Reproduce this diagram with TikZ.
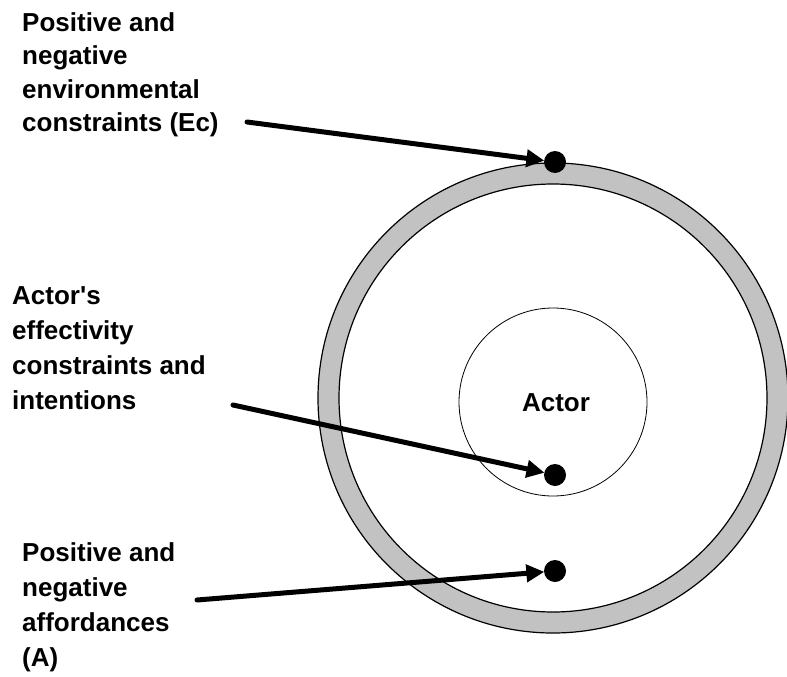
\documentclass[tikz,border=0pt]{standalone}
\usepackage{fontspec}
\setmainfont{Liberation Sans}
\usetikzlibrary{arrows.meta}

\begin{document}
\begin{tikzpicture}[x=1pt,y=-1pt,
  label text/.style={font=\bfseries\fontsize{26}{35}\selectfont, align=left,
                     anchor=north west, inner sep=0pt},
  marker/.style={circle, fill=black, inner sep=0pt, minimum size=22pt},
  pointer/.style={line width=5pt, line cap=round,
                  -{Triangle[length=18pt,width=17pt]}, shorten >=-0.5pt},
  ring edge/.style={draw=black, line width=1.2pt},
]
\useasboundingbox (0,0) rectangle (787,677);

% environment ring
\coordinate (centre) at (553,398);
\fill[black!24, even odd rule] (centre) circle[radius=235] (centre) circle[radius=214];
\draw[ring edge] (centre) circle[radius=235];
\draw[ring edge] (centre) circle[radius=214];

% actor circle
\node[circle, draw=black, line width=0.8pt, minimum size=188pt, inner sep=0pt] (actor) at (553,402) {};
\node[font=\bfseries\fontsize{26}{30}\selectfont] (actorname) at (556,403) {Actor};

% markers
\node[marker] (ec) at (555,162) {};
\node[marker] (eff) at (555,475) {};
\node[marker] (aff) at (555,571) {};

% labels
\node[label text, font=\bfseries\fontsize{26}{33.5}\selectfont] (ectext) at (22,12)
  {Positive and\\negative\\environmental\\constraints (Ec)};
\node[label text] (efftext) at (12,286)
  {Actor\textquotesingle s\\effectivity\\constraints and\\intentions};
\node[label text] (afftext) at (22,542)
  {Positive and\\negative\\affordances\\(A)};

% arrow tails
\coordinate (ecstart) at (247,122);
\coordinate (effstart) at (233,405);
\coordinate (affstart) at (197,600);

\draw[pointer] (ecstart) -- (ec);
\draw[pointer] (effstart) -- (eff);
\draw[pointer] (affstart) -- (aff);
\end{tikzpicture}
\end{document}
